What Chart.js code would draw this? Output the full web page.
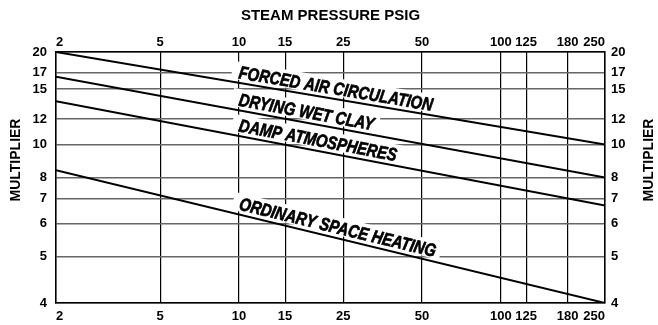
<!DOCTYPE html>
<html>
<head>
<meta charset="utf-8">
<script src="https://cdn.jsdelivr.net/npm/chart.js@4.4.1/dist/chart.umd.min.js"></script>
<style>
  html, body { margin: 0; background: #fff; }
  #wrap { width: 658px; height: 325px; }
</style>
</head>
<body>
<div id="wrap"><canvas id="chart" width="658" height="325"></canvas></div>
<script>
// steam pressure (psig) along x, multiplier along y
const pressureTicks = [2, 5, 10, 15, 25, 50, 100, 125, 180, 250];
const multiplierTicks = [4, 5, 6, 7, 8, 10, 12, 15, 17, 20];
const pressureEnds = [2, 250];

// multiplier at 2 psig and at 250 psig for each service
const forcedAir = [20, 10];
const dryingWetClay = [16.5, 8];
const dampAtmospheres = [13.7, 6.7];
const spaceHeating = [8.4, 4];

const serviceNames = ['FORCED AIR CIRCULATION', 'DRYING WET CLAY', 'DAMP ATMOSPHERES', 'ORDINARY SPACE HEATING'];
const axisTitleX = 'STEAM PRESSURE PSIG';
const axisTitleY = 'MULTIPLIER';

const sans = '"Liberation Sans", Arial, Helvetica, sans-serif';

// log scale of (value - shift): the multiplier rulings close up towards the top
class ShiftedLogScale extends Chart.LogarithmicScale {
  static id = 'shiftedLog';
  static defaults = Chart.LogarithmicScale.defaults;
  _span() {
    const s = this.options.shift || 0;
    return [s, Math.log10(this.min - s), Math.log10(this.max - s)];
  }
  getPixelForValue(value) {
    if (value === null || isNaN(value)) return NaN;
    const [s, lo, hi] = this._span();
    return this.getPixelForDecimal((Math.log10(value - s) - lo) / (hi - lo));
  }
  getValueForPixel(pixel) {
    const [s, lo, hi] = this._span();
    return Math.pow(10, lo + this.getDecimalForPixel(pixel) * (hi - lo)) + s;
  }
}
Chart.register(ShiftedLogScale);

const toPoints = ys => pressureEnds.map((x, i) => ({ x, y: ys[i] }));

// name written along each line, above it, on a white patch over the grid
const lineLabels = {
  id: 'lineLabels',
  beforeDatasetsDraw(chart) {
    const ctx = chart.ctx;
    const squeeze = 0.82;
    ctx.save();
    ctx.font = `italic bold 18px ${sans}`;
    chart.data.datasets.forEach((ds, i) => {
      const pts = chart.getDatasetMeta(i).data;
      const a = pts[0], b = pts[pts.length - 1];
      const ang = Math.atan2(b.y - a.y, b.x - a.x);
      const t = 0.33;
      const w = ctx.measureText(ds.label).width * squeeze;
      ctx.save();
      ctx.translate(a.x + (b.x - a.x) * t, a.y + (b.y - a.y) * t);
      ctx.rotate(ang);
      ctx.fillStyle = '#fff';
      ctx.fillRect(-7, -21, w + 12, 18);
      ctx.scale(squeeze, 1);
      ctx.fillStyle = '#000';
      ctx.strokeStyle = '#000';
      ctx.lineWidth = 0.7;
      ctx.lineJoin = 'round';
      ctx.textBaseline = 'alphabetic';
      ctx.fillText(ds.label, 0, -4.5);
      ctx.strokeText(ds.label, 0, -4.5);
      ctx.restore();
    });
    ctx.restore();
  }
};

// vertical titles on both sides, reading upwards
const sideTitles = {
  id: 'sideTitles',
  afterDraw(chart) {
    const ctx = chart.ctx;
    ctx.save();
    ctx.font = `bold 14px ${sans}`;
    ctx.fillStyle = '#000';
    ctx.textAlign = 'center';
    ctx.textBaseline = 'middle';
    [16, 649].forEach(x => {
      ctx.save();
      ctx.translate(x, 160);
      ctx.rotate(-Math.PI / 2);
      ctx.fillText(axisTitleY, 0, 0);
      ctx.restore();
    });
    ctx.restore();
  }
};

const tickFont = { family: sans, size: 13, weight: 'bold' };

function pressureAxis(position, height, pad) {
  return {
    type: 'logarithmic',
    position,
    min: pressureEnds[0],
    max: pressureEnds[1],
    afterBuildTicks: s => { s.ticks = pressureTicks.map(value => ({ value })); },
    afterFit: s => { s.height = height; },
    ticks: {
      font: tickFont, color: '#000', autoSkip: false, maxRotation: 0,
      padding: pad, align: 'inner', callback: v => String(v)
    },
    grid: { display: position === 'bottom', color: '#000', lineWidth: 1.2, drawTicks: false },
    border: { display: true, color: '#000', width: 1.5 }
  };
}

function multiplierAxis(position, width, pad) {
  return {
    type: 'shiftedLog',
    shift: 2,
    position,
    min: multiplierTicks[0],
    max: multiplierTicks[multiplierTicks.length - 1],
    afterBuildTicks: s => { s.ticks = multiplierTicks.map(value => ({ value })); },
    afterFit: s => { s.width = width; },
    ticks: {
      font: tickFont, color: '#000', autoSkip: false,
      padding: pad, callback: v => String(v)
    },
    grid: { display: position === 'left', color: '#666', lineWidth: 1.5, drawTicks: false },
    border: { display: true, color: '#000', width: 1.5 }
  };
}

const topAxis = pressureAxis('top', 52, 2);
topAxis.title = { display: true, text: axisTitleX, color: '#000', font: { family: sans, size: 15, weight: 'bold' }, padding: { top: 7, bottom: 0 } };

new Chart(document.getElementById('chart'), {
  type: 'line',
  data: {
    datasets: [forcedAir, dryingWetClay, dampAtmospheres, spaceHeating].map((ys, i) => ({
      label: serviceNames[i],
      data: toPoints(ys),
      xAxisID: 'x',
      yAxisID: 'y',
      borderColor: '#000',
      borderWidth: 2,
      pointRadius: 0,
      tension: 0
    }))
  },
  options: {
    responsive: false,
    animation: false,
    layout: { padding: 0 },
    plugins: { legend: { display: false }, tooltip: { enabled: false } },
    scales: {
      x: pressureAxis('bottom', 22, 6),
      x2: topAxis,
      y: multiplierAxis('left', 56, 9),
      y2: multiplierAxis('right', 53, 6)
    }
  },
  plugins: [lineLabels, sideTitles]
});
</script>
</body>
</html>
